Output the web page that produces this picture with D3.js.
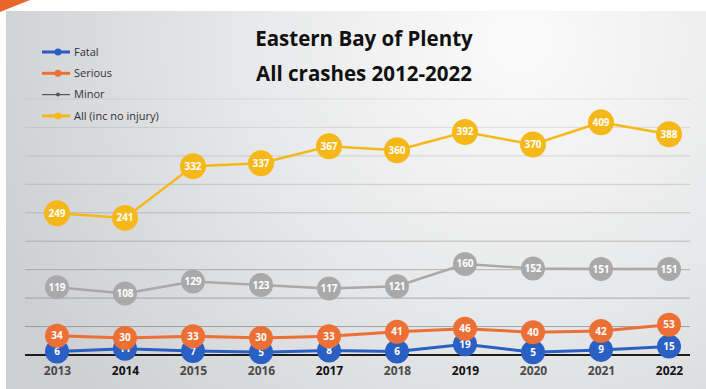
<!DOCTYPE html>
<html>
<head>
<meta charset="utf-8">
<script src="https://cdn.jsdelivr.net/npm/d3@7"></script>
<style>
  html, body { margin: 0; padding: 0; background: #fff; }
  svg { display: block; }
</style>
</head>
<body>
<script>
// Eastern Bay of Plenty - all crashes by year
var years = ["2013", "2014", "2015", "2016", "2017", "2018", "2019", "2020", "2021", "2022"];
var fatal = [6, 11, 7, 5, 8, 6, 19, 5, 9, 15];
var serious = [34, 30, 33, 30, 33, 41, 46, 40, 42, 53];
var minor = [119, 108, 129, 123, 117, 121, 160, 152, 151, 151];
var allCrashes = [249, 241, 332, 337, 367, 360, 392, 370, 409, 388];
var gridValues = [50, 100, 150, 200, 250, 300, 350, 400, 450];
var darkYears = ["2014", "2017", "2019", "2022"];

var width = 706, height = 389;

var series = [
  { name: "Fatal", values: fatal, color: "#2a5fc4", r: 12, lw: 3 },
  { name: "Serious", values: serious, color: "#ec7035", r: 12, lw: 3 },
  { name: "Minor", values: minor, color: "#a9a9aa", r: 12, lw: 2.5 },
  { name: "All (inc no injury)", values: allCrashes, color: "#f6b819", r: 13, lw: 2.5 }
];

var svg = d3.select("body").append("svg")
    .attr("width", width)
    .attr("height", height);

var defs = svg.append("defs");
var bg = defs.append("radialGradient")
    .attr("id", "bg")
    .attr("gradientUnits", "userSpaceOnUse")
    .attr("cx", 520).attr("cy", 40).attr("r", 560);
bg.append("stop").attr("offset", "0%").attr("stop-color", "#fbfbfb");
bg.append("stop").attr("offset", "45%").attr("stop-color", "#e9eaeb");
bg.append("stop").attr("offset", "100%").attr("stop-color", "#cdcfd2");

// paper + scanned panel
svg.append("rect").attr("width", width).attr("height", height).attr("fill", "#ffffff");
svg.append("rect")
    .attr("x", 6).attr("y", 11)
    .attr("width", width - 6).attr("height", height - 11)
    .attr("fill", "url(#bg)");
svg.append("path")
    .attr("d", "M0,0 H30 C20,4 10,8 0,12 Z")
    .attr("fill", "#e8662a");

var x = d3.scalePoint()
    .domain(years)
    .range([57, 669]);

var y = d3.scaleLinear()
    .domain([0, 450])
    .range([355, 99]);

var gridFade = d3.scaleLinear().domain([50, 450]).range([0.75, 0.15]);

svg.append("g")
    .selectAll("line")
    .data(gridValues)
    .enter().append("line")
    .attr("x1", 25).attr("x2", 690)
    .attr("y1", function(d) { return y(d); })
    .attr("y2", function(d) { return y(d); })
    .attr("stroke", "#8c8c8c")
    .attr("stroke-opacity", function(d) { return gridFade(d); })
    .attr("stroke-width", 1);

// baseline
svg.append("line")
    .attr("x1", 25).attr("x2", 690)
    .attr("y1", y(0)).attr("y2", y(0))
    .attr("stroke", "#1c1c1c")
    .attr("stroke-width", 2);

// year labels
var xAxis = svg.append("g")
    .attr("transform", "translate(0," + (y(0) + 7) + ")")
    .call(d3.axisBottom(x).tickSize(0).tickPadding(4));
xAxis.select(".domain").remove();
xAxis.selectAll("text")
    .attr("font-family", "'Open Sans', sans-serif")
    .attr("font-size", 12)
    .attr("font-weight", "bold")
    .attr("fill", function(d) { return darkYears.indexOf(d) >= 0 ? "#111" : "#4a4a4a"; });

var line = d3.line()
    .x(function(d, i) { return x(years[i]); })
    .y(function(d) { return y(d); });

series.forEach(function(s) {
  var g = svg.append("g");
  g.append("path")
      .datum(s.values)
      .attr("d", line)
      .attr("fill", "none")
      .attr("stroke", s.color)
      .attr("stroke-width", s.lw);

  var pt = g.selectAll("g.pt")
      .data(s.values)
      .enter().append("g")
      .attr("class", "pt")
      .attr("transform", function(d, i) { return "translate(" + x(years[i]) + "," + y(d) + ")"; });

  pt.append("circle")
      .attr("r", s.r)
      .attr("fill", s.color);

  pt.append("text")
      .attr("text-anchor", "middle")
      .attr("dy", "0.35em")
      .attr("font-family", "'Open Sans', sans-serif")
      .attr("font-size", 10)
      .attr("font-weight", "bold")
      .attr("fill", "#ffffff")
      .text(function(d) { return d; });
});

// legend
var legend = svg.append("g")
    .selectAll("g")
    .data(series)
    .enter().append("g")
    .attr("transform", function(d, i) { return "translate(42," + (52 + i * 21.3) + ")"; });

legend.append("line")
    .attr("x1", 0).attr("x2", 28)
    .attr("stroke", function(d) { return d.name == "Minor" ? "#555" : d.color; })
    .attr("stroke-width", function(d) { return d.name == "Minor" ? 1.2 : 3; });

legend.append("circle")
    .attr("cx", 16)
    .attr("r", function(d) { return d.name == "Minor" ? 2 : 3.5; })
    .attr("fill", function(d) { return d.name == "Minor" ? "#555" : d.color; });

legend.append("text")
    .attr("x", 32)
    .attr("dy", "0.35em")
    .attr("font-family", "'Open Sans', sans-serif")
    .attr("font-size", 11)
    .attr("fill", "#333")
    .text(function(d) { return d.name; });

// title
var title = svg.append("text")
    .attr("text-anchor", "middle")
    .attr("font-family", "'Open Sans', sans-serif")
    .attr("font-size", 20.5)
    .attr("font-weight", "bold")
    .attr("fill", "#111");
title.append("tspan").attr("x", 364).attr("y", 46).text("Eastern Bay of Plenty");
title.append("tspan").attr("x", 364).attr("y", 81).text("All crashes 2012-2022");
</script>
</body>
</html>
